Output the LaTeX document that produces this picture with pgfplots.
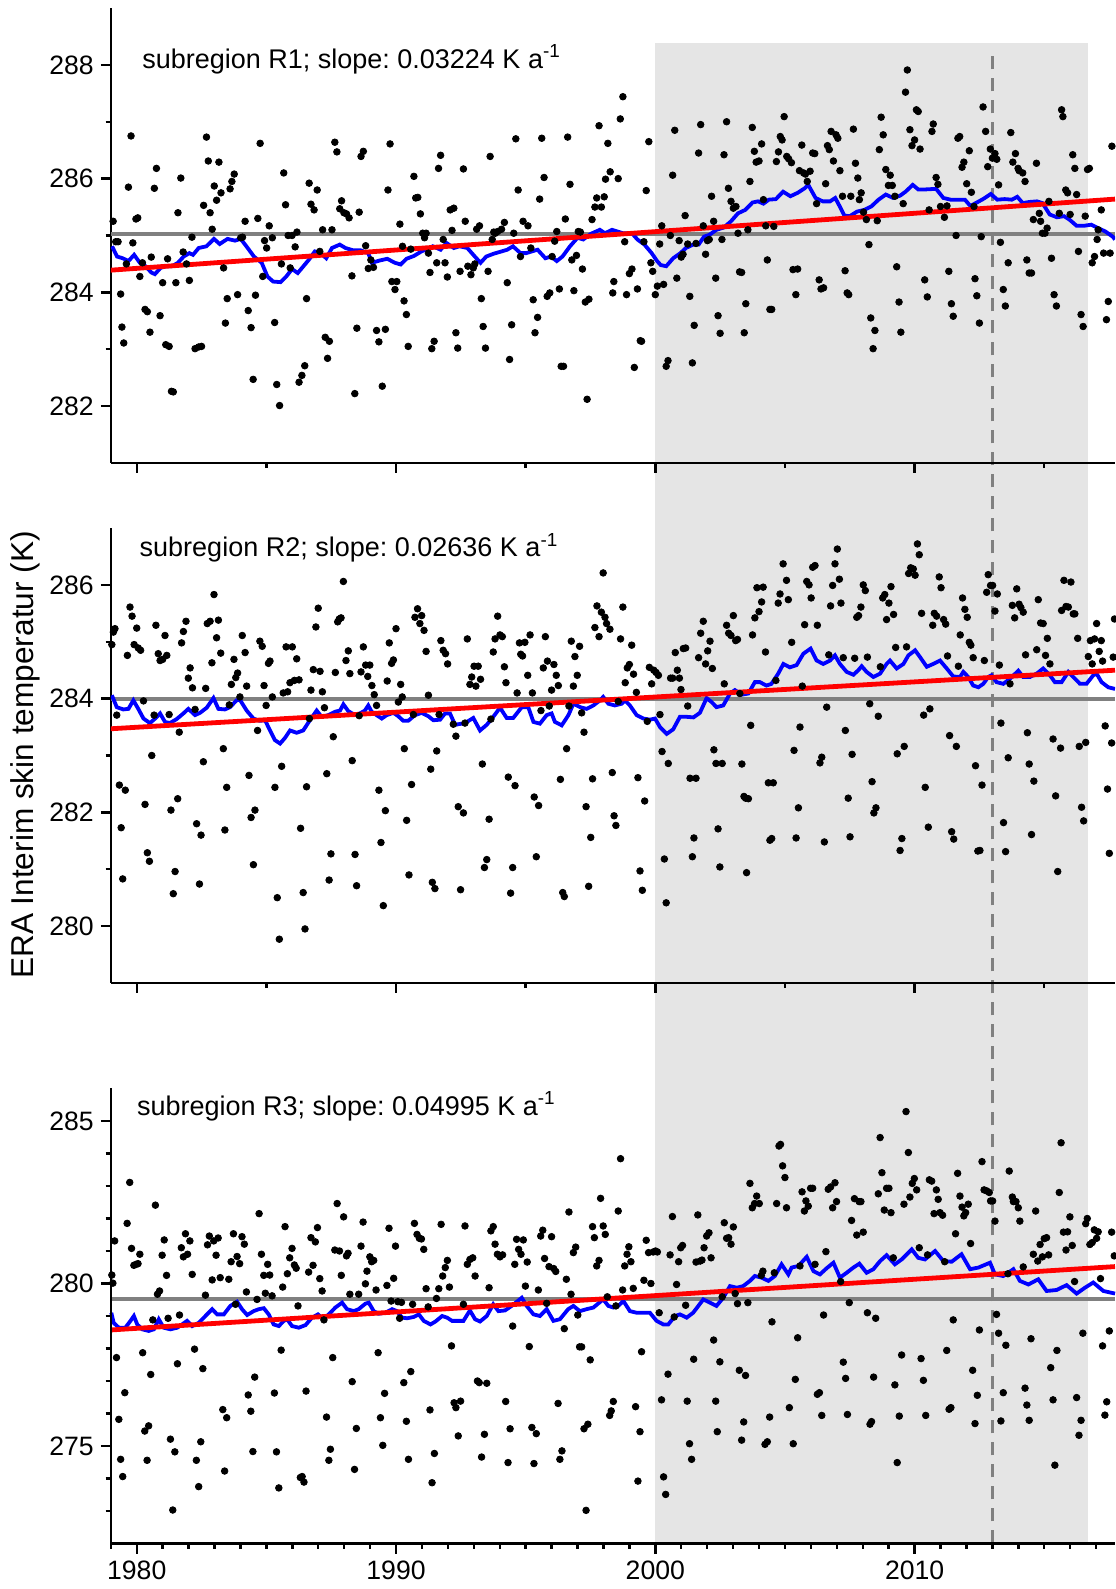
\documentclass[border=0pt]{standalone}
\usepackage{fontspec}
\setmainfont{Liberation Sans}
\usepackage{pgfplots}
\pgfplotsset{compat=1.18}
\frenchspacing
\definecolor{bandgray}{RGB}{229,229,229}
\definecolor{meangray}{RGB}{128,128,128}
\pgfplotsset{
  panel/.style={
    scale only axis, width=502.1pt, height=227.5pt,
    xmin=1979, xmax=2017.73,
    axis x line=bottom, axis y line=left,
    axis line style={-, line width=1.2pt, black},
    every outer x axis line/.append style={-},
    every outer y axis line/.append style={-},
    tick align=outside,
    major tick length=5pt, minor tick length=2.6pt,
    tick style={black, line width=1.2pt},
    xtick={1980,1990,2000,2010},
    tick label style={font=\fontsize{13.3}{15}\selectfont},
    /pgf/number format/assume math mode=true,
    /pgf/number format/set thousands separator={},
  },
  dots/.style={only marks, mark=*, mark size=1.65pt, black, mark options={draw=black, fill=black}},
  meanline/.style={meangray, line width=2pt, no marks},
  runline/.style={blue, line width=1.9pt, no marks},
  trendline/.style={red, line width=2.4pt, no marks},
}
\begin{document}
\begin{tikzpicture}
% ---------------- Panel R3 (bottom) ----------------
\begin{axis}[panel, at={(0pt,0pt)}, clip=false, axis on top,
  ymin=272, ymax=286, ytick={275,280,285},
  minor ytick={273,274,276,277,278,279,281,282,283,284},
  minor xtick={1979,1981,1982,1983,1984,1985,1986,1987,1988,1989,1991,1992,1993,1994,1995,1996,1997,1998,1999,2001,2002,2003,2004,2005,2006,2007,2008,2009,2011,2012,2013,2014,2015,2016,2017}]
\fill[bandgray] (axis cs:2000,272) rectangle (axis cs:2016.67,318.18);
\draw[meangray, line width=1.2pt, dash pattern=on 6.5pt off 4.5pt] (axis cs:2013,272) -- (axis cs:2013,317.8);
\addplot[dots] table[row sep=\\] {
x y\\
1979.04 280.26\\ 1979.08 280.01\\ 1979.15 281.31\\ 1979.22 277.72\\ 1979.31 275.82\\ 1979.38 274.59\\ 1979.46 274.06\\ 1979.54 276.64\\ 1979.63 281.85\\ 1979.73 283.11\\
1979.80 281.08\\ 1979.89 280.56\\ 1979.98 280.59\\ 1980.05 280.61\\ 1980.12 280.90\\ 1980.23 277.87\\ 1980.31 275.46\\ 1980.40 274.56\\ 1980.46 275.62\\ 1980.54 277.20\\
1980.62 278.88\\ 1980.72 282.41\\ 1980.80 279.67\\ 1980.88 279.77\\ 1980.98 280.87\\ 1981.06 281.34\\ 1981.15 280.25\\ 1981.21 278.93\\ 1981.30 275.21\\ 1981.39 273.03\\
1981.47 274.82\\ 1981.57 277.53\\ 1981.65 279.03\\ 1981.72 281.10\\ 1981.80 280.82\\ 1981.88 281.53\\ 1981.96 280.90\\ 1982.05 281.31\\ 1982.14 280.28\\ 1982.23 277.98\\
1982.30 274.56\\ 1982.39 273.75\\ 1982.47 275.13\\ 1982.55 277.38\\ 1982.65 279.64\\ 1982.73 281.19\\ 1982.80 281.46\\ 1982.91 280.11\\ 1982.97 281.31\\ 1983.06 280.87\\
1983.14 281.40\\ 1983.22 280.18\\ 1983.32 276.12\\ 1983.39 274.23\\ 1983.47 275.87\\ 1983.55 280.13\\ 1983.64 280.67\\ 1983.73 281.53\\ 1983.81 279.36\\ 1983.87 280.83\\
1983.97 280.61\\ 1984.06 281.44\\ 1984.15 281.21\\ 1984.23 279.74\\ 1984.30 276.57\\ 1984.40 276.07\\ 1984.48 274.83\\ 1984.55 277.12\\ 1984.64 279.51\\ 1984.72 282.15\\
1984.81 280.90\\ 1984.90 280.25\\ 1984.96 279.70\\ 1985.05 280.59\\ 1985.13 280.26\\ 1985.22 279.62\\ 1985.31 276.63\\ 1985.39 274.82\\ 1985.48 273.71\\ 1985.57 277.95\\
1985.63 279.89\\ 1985.72 281.75\\ 1985.81 280.30\\ 1985.90 280.79\\ 1985.99 281.08\\ 1986.08 280.57\\ 1986.15 280.47\\ 1986.22 279.31\\ 1986.31 274.03\\ 1986.38 274.06\\
1986.45 273.89\\ 1986.53 276.69\\ 1986.63 280.35\\ 1986.72 281.41\\ 1986.80 280.56\\ 1986.89 281.28\\ 1986.97 281.72\\ 1987.06 280.15\\ 1987.15 279.77\\ 1987.22 278.88\\
1987.32 275.89\\ 1987.41 274.56\\ 1987.47 274.90\\ 1987.56 277.72\\ 1987.64 281.03\\ 1987.73 282.46\\ 1987.82 281.00\\ 1987.89 280.25\\ 1987.98 282.05\\ 1988.09 280.85\\
1988.15 280.93\\ 1988.22 279.67\\ 1988.31 276.98\\ 1988.40 274.28\\ 1988.47 275.54\\ 1988.56 279.67\\ 1988.65 281.15\\ 1988.73 281.89\\ 1988.82 279.99\\ 1988.88 280.38\\
1988.99 280.82\\ 1989.06 280.67\\ 1989.14 280.71\\ 1989.23 279.80\\ 1989.31 277.87\\ 1989.40 275.87\\ 1989.49 275.02\\ 1989.56 276.62\\ 1989.65 279.94\\ 1989.73 281.70\\
1989.81 279.46\\ 1989.91 280.16\\ 1989.98 281.15\\ 1990.07 279.44\\ 1990.14 278.93\\ 1990.21 279.42\\ 1990.30 276.95\\ 1990.40 275.76\\ 1990.48 274.59\\ 1990.57 277.29\\
1990.64 279.36\\ 1990.71 281.85\\ 1990.81 281.51\\ 1990.90 281.39\\ 1990.98 281.37\\ 1991.07 281.05\\ 1991.16 279.84\\ 1991.24 279.28\\ 1991.31 276.11\\ 1991.39 273.87\\
1991.48 274.77\\ 1991.56 279.54\\ 1991.65 279.84\\ 1991.74 281.82\\ 1991.80 280.23\\ 1991.90 280.49\\ 1991.98 280.71\\ 1992.06 279.89\\ 1992.14 278.08\\
1992.24 276.33\\ 1992.31 276.18\\ 1992.40 275.31\\ 1992.49 276.38\\ 1992.60 279.36\\ 1992.66 281.77\\ 1992.75 280.59\\ 1992.85 280.74\\ 1992.96 280.79\\ 1993.05 280.23\\
1993.14 277.00\\ 1993.21 276.95\\ 1993.30 274.66\\ 1993.41 275.36\\ 1993.50 276.93\\ 1993.59 279.87\\ 1993.66 281.62\\ 1993.75 281.75\\ 1993.82 281.21\\ 1993.91 280.90\\
1994.01 280.82\\ 1994.11 280.88\\ 1994.23 276.37\\ 1994.32 274.49\\ 1994.40 275.53\\ 1994.50 278.69\\ 1994.58 280.59\\ 1994.65 281.36\\ 1994.73 281.05\\ 1994.82 280.90\\
1994.91 281.34\\ 1994.99 279.92\\ 1995.06 280.66\\ 1995.14 278.06\\ 1995.24 275.57\\ 1995.32 274.46\\ 1995.41 275.38\\ 1995.49 279.80\\ 1995.58 281.46\\ 1995.66 281.64\\
1995.73 280.77\\ 1995.81 279.39\\ 1995.90 280.52\\ 1996.00 281.44\\ 1996.08 280.46\\ 1996.16 280.37\\ 1996.25 276.31\\ 1996.32 274.59\\ 1996.40 274.85\\ 1996.49 278.61\\
1996.57 280.13\\ 1996.67 282.20\\ 1996.75 279.67\\ 1996.84 280.95\\ 1996.93 281.12\\ 1997.01 279.03\\ 1997.08 278.05\\ 1997.16 278.05\\ 1997.25 275.53\\ 1997.33 273.02\\
1997.40 275.67\\ 1997.49 277.65\\ 1997.58 281.75\\ 1997.65 281.41\\ 1997.74 280.54\\ 1997.83 280.71\\ 1997.89 282.62\\ 1997.99 281.77\\ 1998.07 281.51\\ 1998.15 279.59\\
1998.24 275.94\\ 1998.30 276.08\\ 1998.38 276.37\\ 1998.48 279.31\\ 1998.57 282.23\\ 1998.66 283.84\\ 1998.74 279.80\\ 1998.82 280.54\\ 1998.91 280.90\\ 1998.98 281.13\\
1999.06 280.67\\ 1999.15 279.85\\ 1999.24 276.21\\ 1999.33 273.92\\ 1999.41 275.44\\ 1999.47 277.90\\ 1999.56 280.10\\ 1999.65 281.33\\ 1999.74 280.95\\ 1999.83 280.00\\
1999.92 280.97\\ 2000.01 281.00\\ 2000.08 280.97\\ 2000.15 279.10\\ 2000.24 276.42\\ 2000.32 274.05\\ 2000.40 273.51\\ 2000.49 277.21\\ 2000.57 280.88\\ 2000.66 282.06\\
2000.73 278.97\\ 2000.82 279.97\\ 2000.90 280.67\\ 2000.98 281.10\\ 2001.05 281.17\\ 2001.17 279.33\\ 2001.23 276.38\\ 2001.32 275.07\\ 2001.40 274.59\\ 2001.48 277.67\\
2001.57 280.66\\ 2001.64 282.11\\ 2001.73 280.69\\ 2001.80 280.72\\ 2001.88 281.10\\ 2001.98 281.46\\ 2002.07 281.56\\ 2002.15 280.79\\ 2002.25 278.26\\ 2002.33 276.38\\
2002.39 275.44\\ 2002.49 277.59\\ 2002.58 279.59\\ 2002.66 281.87\\ 2002.75 281.39\\ 2002.83 281.41\\ 2002.92 281.21\\ 2003.01 281.74\\ 2003.08 279.69\\ 2003.17 279.38\\
2003.24 277.33\\ 2003.33 275.18\\ 2003.41 275.74\\ 2003.48 277.17\\ 2003.57 279.41\\ 2003.65 283.08\\ 2003.74 282.33\\ 2003.83 282.46\\ 2003.91 282.69\\ 2004.01 282.46\\
2004.09 280.25\\ 2004.15 280.38\\ 2004.23 275.05\\ 2004.32 275.13\\ 2004.41 275.89\\ 2004.50 278.82\\ 2004.59 280.33\\ 2004.68 282.46\\ 2004.77 284.23\\ 2004.83 284.28\\
2004.91 283.62\\ 2005.00 283.26\\ 2005.06 282.33\\ 2005.17 276.18\\
2005.32 275.07\\ 2005.40 277.05\\ 2005.49 278.33\\ 2005.58 280.54\\ 2005.66 282.82\\ 2005.75 282.23\\ 2005.81 282.54\\ 2005.90 282.38\\ 2005.99 282.93\\ 2006.07 282.93\\
2006.16 280.59\\ 2006.25 276.59\\ 2006.33 276.64\\ 2006.42 275.94\\ 2006.49 279.03\\ 2006.58 280.98\\ 2006.67 282.90\\ 2006.76 282.97\\ 2006.84 282.33\\ 2006.93 283.10\\
2006.99 282.52\\ 2007.15 280.06\\ 2007.25 277.58\\ 2007.34 277.08\\ 2007.41 275.97\\ 2007.48 279.41\\ 2007.57 281.94\\ 2007.68 282.61\\ 2007.77 281.49\\ 2007.86 282.52\\
2007.93 282.52\\ 2008.02 281.58\\ 2008.18 279.10\\ 2008.28 275.67\\ 2008.34 275.75\\ 2008.42 277.12\\ 2008.50 278.93\\ 2008.60 282.76\\ 2008.67 284.49\\ 2008.74 283.41\\
2008.83 282.26\\ 2008.92 282.93\\ 2009.01 282.93\\ 2009.09 282.18\\ 2009.18 280.79\\ 2009.24 276.88\\ 2009.33 274.49\\ 2009.41 275.92\\ 2009.50 277.80\\ 2009.59 282.44\\
2009.67 285.29\\ 2009.76 284.03\\ 2009.82 282.66\\ 2009.91 283.08\\ 2009.99 283.23\\ 2010.08 282.88\\ 2010.18 281.10\\ 2010.25 277.69\\ 2010.34 277.02\\ 2010.43 275.94\\
2010.50 280.88\\ 2010.57 283.19\\ 2010.66 283.15\\ 2010.75 282.15\\ 2010.84 282.88\\ 2010.91 282.59\\ 2010.98 282.18\\ 2011.08 282.10\\ 2011.16 280.67\\ 2011.24 277.94\\
2011.33 276.13\\ 2011.40 276.18\\ 2011.49 278.88\\ 2011.58 281.53\\ 2011.66 283.39\\ 2011.75 282.69\\ 2011.83 282.35\\ 2011.90 282.08\\ 2011.97 282.18\\ 2012.07 282.44\\
2012.16 281.23\\ 2012.24 277.33\\ 2012.33 275.69\\ 2012.42 276.56\\ 2012.50 278.57\\ 2012.60 283.75\\ 2012.68 282.88\\ 2012.78 282.85\\ 2012.88 282.80\\ 2012.93 282.54\\
2013.01 282.54\\ 2013.10 281.92\\ 2013.16 279.05\\ 2013.24 278.47\\ 2013.33 275.77\\ 2013.42 276.64\\ 2013.52 278.10\\ 2013.60 280.30\\ 2013.65 283.46\\ 2013.77 282.66\\
2013.81 282.52\\ 2013.91 282.52\\ 2014.00 282.33\\ 2014.06 281.92\\ 2014.19 280.51\\ 2014.26 276.78\\ 2014.33 276.26\\ 2014.42 275.79\\ 2014.49 278.30\\ 2014.58 280.90\\
2014.67 282.23\\ 2014.75 280.69\\ 2014.84 281.20\\ 2014.93 280.82\\ 2015.00 281.38\\ 2015.09 281.41\\ 2015.17 280.88\\ 2015.25 277.41\\ 2015.34 276.42\\ 2015.41 274.41\\
2015.49 277.94\\ 2015.58 282.80\\ 2015.65 284.33\\ 2015.74 281.58\\ 2015.84 281.03\\ 2015.90 281.59\\ 2015.99 282.05\\ 2016.08 281.17\\ 2016.17 280.06\\ 2016.25 276.49\\
2016.34 275.33\\ 2016.42 275.79\\ 2016.49 278.47\\ 2016.60 281.84\\ 2016.66 282.00\\ 2016.76 281.20\\ 2016.85 281.26\\ 2016.93 281.65\\ 2017.02 281.39\\ 2017.08 281.59\\
2017.17 280.15\\ 2017.25 278.08\\ 2017.34 275.95\\ 2017.41 276.36\\ 2017.51 278.54\\ 2017.60 281.58\\ 2017.70 280.85\\
};
\addplot[meanline] coordinates {(1979,279.53) (2017.73,279.53)};
\addplot[runline] coordinates {
(1979.02,279.10) (1979.11,278.79) (1979.31,278.64) (1979.56,278.64) (1979.76,278.85) (1979.89,279.00) (1980.02,278.74) (1980.21,278.59) (1980.46,278.54) (1980.66,278.59)
(1980.85,278.90) (1981.04,278.64) (1981.30,278.59) (1981.56,278.64) (1981.75,278.74) (1981.94,278.85) (1982.14,278.69) (1982.39,278.79) (1982.65,279.00) (1982.91,279.21)
(1983.10,279.05) (1983.36,279.05) (1983.61,279.31) (1983.87,279.44) (1984.06,279.21) (1984.26,279.03) (1984.51,279.15) (1984.71,279.21) (1984.90,279.24) (1985.09,279.05)
(1985.28,278.74) (1985.48,278.69) (1985.67,278.85) (1985.80,278.90) (1985.99,278.69) (1986.25,278.64) (1986.51,278.72) (1986.76,278.95) (1986.99,279.05) (1987.21,278.90)
(1987.47,279.10) (1987.66,279.26) (1987.92,279.41) (1988.11,279.21) (1988.37,279.15) (1988.56,279.21) (1988.82,279.38) (1988.95,279.41) (1989.14,279.15) (1989.33,279.07)
(1989.59,279.10) (1989.85,279.21) (1990.04,279.15) (1990.23,278.95) (1990.43,278.93) (1990.68,278.97) (1990.88,279.05) (1991.07,278.85) (1991.33,278.74) (1991.52,278.83)
(1991.78,279.00) (1991.97,278.95) (1992.16,278.85) (1992.34,278.85) (1992.60,278.85) (1992.85,279.17) (1993.05,278.90) (1993.24,278.83) (1993.50,279.00) (1993.75,279.36)
(1993.95,279.15) (1994.20,279.17) (1994.46,279.31) (1994.85,279.56) (1995.04,279.31) (1995.30,279.05) (1995.55,279.00) (1995.81,279.21) (1996.07,278.85) (1996.32,278.90)
(1996.64,279.21) (1996.84,279.31) (1997.09,279.15) (1997.35,279.21) (1997.61,279.26) (1997.99,279.51) (1998.19,279.31) (1998.38,279.26) (1998.57,279.31) (1998.77,279.46)
(1999.02,279.15) (1999.28,279.10) (1999.54,279.10) (1999.79,279.10) (2000.05,278.85) (2000.31,278.74) (2000.50,278.74) (2000.76,279.00) (2000.95,279.05) (2001.21,278.95)
(2001.46,279.10) (2001.85,279.51) (2002.11,279.41) (2002.36,279.31) (2002.62,279.56) (2002.88,279.92) (2003.14,279.87) (2003.39,279.92) (2003.65,280.08) (2003.84,280.23)
(2004.10,280.18) (2004.36,280.08) (2004.61,280.23) (2004.87,280.59) (2005.13,280.28) (2005.26,280.49) (2005.52,280.54) (2005.84,280.82) (2006.10,280.38) (2006.35,280.28)
(2006.61,280.47) (2006.87,280.64) (2007.12,280.18) (2007.38,280.33) (2007.64,280.49) (2007.87,280.61) (2008.15,280.33) (2008.41,280.44) (2008.67,280.69) (2008.92,280.87)
(2009.24,280.59) (2009.50,280.74) (2009.89,281.05) (2010.14,280.79) (2010.40,280.74) (2010.79,281.00) (2011.11,280.69) (2011.43,280.67) (2011.81,280.90) (2012.14,280.44)
(2012.46,280.49) (2012.91,280.64) (2013.10,280.28) (2013.42,280.23) (2013.81,280.44) (2014.06,280.08) (2014.39,279.97) (2014.77,280.13) (2015.09,279.77) (2015.48,279.80)
(2015.86,279.95) (2016.25,279.69) (2016.57,279.87) (2016.89,280.03) (2017.28,279.77) (2017.73,279.69)
};
\addplot[trendline] coordinates {(1979,278.57) (2017.73,280.52)};
\node[anchor=west, inner sep=0pt, font=\fontsize{13.5}{16}\selectfont] at (axis cs:1980.0,285.45) {subregion R3; slope: 0.04995 K a\textsuperscript{-1}};
\end{axis}
% ---------------- Panel R2 (middle) ----------------
\begin{axis}[panel, at={(0pt,280.25pt)},
  ymin=279, ymax=287, ytick={280,282,284,286}, minor ytick={281,283,285},
  xticklabels={,,,}, minor xtick={1985,1995,2005,2015}]
\addplot[dots] table[row sep=\\] {
x y\\
1979.10 285.17\\ 1979.16 285.23\\ 1979.04 284.95\\ 1979.23 283.71\\ 1979.33 282.48\\ 1979.40 281.73\\ 1979.46 280.83\\ 1979.56 282.39\\ 1979.64 284.76\\ 1979.74 285.61\\
1979.82 285.45\\ 1979.90 284.95\\ 1980.00 285.24\\ 1980.06 284.89\\ 1980.15 284.85\\ 1980.26 283.96\\ 1980.32 282.14\\ 1980.41 281.29\\ 1980.49 281.14\\ 1980.58 283.00\\
1980.67 283.71\\ 1980.74 285.29\\ 1980.83 284.79\\ 1980.90 284.67\\ 1981.00 284.69\\ 1981.09 285.11\\ 1981.16 284.76\\ 1981.25 283.72\\ 1981.32 282.04\\ 1981.41 280.57\\
1981.48 280.96\\ 1981.58 282.24\\ 1981.64 283.41\\ 1981.73 284.98\\ 1981.80 285.18\\ 1981.90 285.36\\ 1981.99 284.36\\ 1982.06 284.54\\ 1982.15 284.19\\ 1982.25 283.81\\
1982.31 281.80\\ 1982.42 280.74\\ 1982.48 281.60\\ 1982.57 282.89\\ 1982.66 284.18\\ 1982.72 285.32\\ 1982.83 285.36\\ 1982.90 284.63\\ 1982.98 285.83\\ 1983.08 285.07\\
1983.15 285.38\\ 1983.24 284.80\\ 1983.34 283.12\\ 1983.40 281.69\\ 1983.47 282.44\\ 1983.57 283.89\\ 1983.65 284.25\\ 1983.75 284.69\\ 1983.82 284.37\\ 1983.89 284.45\\
1983.98 284.03\\ 1984.07 285.11\\ 1984.18 284.81\\ 1984.24 284.22\\ 1984.33 282.65\\ 1984.41 281.91\\ 1984.50 281.08\\ 1984.56 282.04\\ 1984.66 283.44\\ 1984.75 285.01\\
1984.84 284.92\\ 1984.91 284.23\\ 1984.99 283.88\\ 1985.08 284.62\\ 1985.14 284.66\\ 1985.23 284.03\\ 1985.33 282.44\\ 1985.42 280.50\\ 1985.50 279.77\\ 1985.59 282.81\\
1985.65 284.10\\ 1985.76 284.91\\ 1985.82 284.12\\ 1985.91 284.28\\ 1986.00 284.91\\ 1986.08 284.32\\ 1986.17 284.70\\ 1986.26 284.33\\ 1986.32 281.72\\ 1986.42 280.59\\
1986.49 279.95\\ 1986.55 282.45\\ 1986.66 283.65\\ 1986.72 284.15\\ 1986.81 284.51\\ 1986.91 285.26\\ 1987.00 285.59\\ 1987.07 284.48\\ 1987.16 284.12\\ 1987.24 283.84\\
1987.33 282.68\\ 1987.42 280.81\\ 1987.49 281.27\\ 1987.58 283.33\\ 1987.66 284.46\\ 1987.75 285.35\\ 1987.81 285.40\\ 1987.88 285.42\\ 1987.97 286.06\\ 1988.07 284.67\\
1988.16 284.84\\ 1988.22 284.44\\ 1988.31 282.91\\ 1988.42 281.26\\ 1988.48 280.71\\ 1988.58 283.70\\ 1988.65 284.47\\ 1988.74 284.91\\ 1988.83 284.59\\ 1988.91 284.39\\
1988.99 284.59\\ 1989.07 284.23\\ 1989.16 284.07\\ 1989.25 283.88\\ 1989.34 282.39\\ 1989.42 281.47\\ 1989.51 280.36\\ 1989.59 282.03\\ 1989.66 284.31\\ 1989.74 284.98\\
1989.83 284.62\\ 1989.90 284.68\\ 1990.00 285.23\\ 1990.09 283.94\\ 1990.18 284.25\\ 1990.24 284.03\\ 1990.32 283.12\\ 1990.41 281.86\\ 1990.50 280.90\\ 1990.60 282.49\\
1990.67 283.72\\ 1990.73 285.43\\ 1990.83 285.58\\ 1990.92 285.32\\ 1990.99 285.46\\ 1991.08 285.20\\ 1991.16 284.83\\ 1991.25 284.06\\ 1991.34 282.76\\ 1991.40 280.77\\
1991.50 280.66\\ 1991.57 283.08\\ 1991.66 283.72\\ 1991.73 285.02\\ 1991.82 284.85\\ 1991.91 284.79\\ 1991.99 284.61\\
1992.21 283.55\\ 1992.31 283.34\\ 1992.40 282.10\\ 1992.49 280.64\\ 1992.60 281.99\\ 1992.66 283.57\\ 1992.75 285.05\\ 1992.85 284.25\\ 1992.92 284.38\\ 1993.01 284.57\\
1993.08 284.22\\ 1993.17 284.57\\ 1993.26 284.34\\ 1993.33 282.85\\ 1993.41 281.03\\ 1993.50 281.17\\ 1993.59 281.88\\ 1993.66 283.64\\ 1993.75 284.82\\ 1993.82 285.05\\
1993.92 285.45\\ 1994.01 285.12\\ 1994.10 285.09\\ 1994.18 284.56\\ 1994.24 284.28\\ 1994.33 282.62\\ 1994.42 280.58\\ 1994.50 281.03\\ 1994.59 282.47\\ 1994.67 284.10\\
1994.76 284.98\\ 1994.81 284.78\\ 1994.88 284.75\\ 1994.97 284.99\\ 1995.08 284.41\\ 1995.17 285.12\\ 1995.26 284.10\\ 1995.33 282.27\\ 1995.41 281.22\\ 1995.50 282.12\\
1995.59 283.79\\ 1995.68 284.54\\ 1995.76 285.09\\ 1995.84 284.66\\ 1995.91 283.87\\ 1996.00 284.15\\ 1996.09 284.60\\ 1996.18 284.41\\ 1996.26 284.23\\ 1996.34 282.58\\
1996.43 280.59\\ 1996.49 280.52\\ 1996.58 283.12\\ 1996.67 283.87\\ 1996.76 285.01\\ 1996.84 284.22\\ 1996.90 284.74\\ 1996.99 284.41\\ 1997.08 284.92\\ 1997.16 283.75\\
1997.25 283.41\\ 1997.33 282.10\\ 1997.43 280.70\\ 1997.51 281.56\\ 1997.58 282.59\\ 1997.67 285.25\\ 1997.75 285.63\\ 1997.83 285.09\\ 1997.92 285.52\\ 1997.99 286.21\\
1998.06 285.43\\ 1998.12 285.32\\ 1998.25 285.22\\ 1998.34 282.70\\ 1998.41 281.94\\ 1998.48 281.77\\ 1998.57 283.95\\ 1998.66 285.05\\ 1998.75 285.61\\ 1998.84 284.28\\
1998.92 284.54\\ 1999.00 284.60\\ 1999.09 284.94\\ 1999.16 284.43\\ 1999.27 284.11\\ 1999.33 282.61\\ 1999.41 280.97\\ 1999.50 280.63\\ 1999.59 282.20\\ 1999.69 283.60\\
1999.77 284.55\\ 1999.86 284.26\\ 1999.94 284.50\\ 2000.03 284.46\\ 2000.12 284.41\\ 2000.18 283.72\\ 2000.26 283.07\\ 2000.35 281.18\\ 2000.42 280.41\\ 2000.50 282.86\\
2000.59 284.36\\ 2000.67 284.36\\ 2000.77 284.81\\ 2000.85 284.50\\ 2000.93 284.36\\ 2000.99 284.16\\ 2001.08 284.88\\ 2001.17 284.89\\ 2001.25 283.87\\ 2001.34 282.60\\
2001.43 281.22\\ 2001.49 281.55\\ 2001.57 282.60\\ 2001.67 284.72\\ 2001.75 285.15\\ 2001.85 285.36\\ 2001.94 284.61\\ 2002.02 284.84\\ 2002.11 285.01\\ 2002.20 284.53\\
2002.26 283.10\\ 2002.34 282.86\\ 2002.42 281.71\\ 2002.49 281.04\\ 2002.58 282.86\\ 2002.66 284.26\\ 2002.75 285.29\\ 2002.83 285.15\\ 2002.92 285.11\\ 2003.01 285.46\\
2003.10 285.02\\ 2003.17 285.04\\ 2003.26 284.09\\ 2003.34 282.85\\ 2003.42 282.28\\ 2003.48 282.25\\ 2003.52 280.94\\ 2003.59 282.24\\ 2003.68 283.53\\ 2003.75 285.12\\
2003.84 285.42\\ 2003.92 285.95\\ 2004.00 285.53\\ 2004.10 285.70\\ 2004.16 285.96\\ 2004.25 284.82\\ 2004.36 282.52\\ 2004.42 281.51\\ 2004.49 281.54\\ 2004.55 282.52\\
2004.65 284.32\\ 2004.74 285.68\\ 2004.81 285.84\\ 2004.93 286.37\\ 2005.06 286.08\\ 2005.13 285.74\\
2005.26 284.99\\ 2005.35 283.09\\ 2005.43 281.55\\ 2005.52 282.08\\ 2005.58 283.50\\ 2005.67 284.22\\ 2005.76 285.30\\ 2005.84 286.06\\ 2005.93 286.00\\ 2006.01 285.77\\
2006.07 286.31\\ 2006.16 286.34\\ 2006.25 285.29\\ 2006.35 282.87\\ 2006.42 282.97\\ 2006.52 281.48\\ 2006.61 283.85\\ 2006.69 284.77\\ 2006.76 285.63\\ 2006.84 285.99\\
2006.93 286.37\\ 2007.02 286.63\\ 2007.10 286.10\\ 2007.16 285.68\\ 2007.25 284.72\\ 2007.33 283.44\\ 2007.44 282.25\\ 2007.51 281.57\\ 2007.59 283.02\\ 2007.69 284.71\\
2007.77 285.43\\ 2007.84 285.46\\ 2007.93 285.61\\ 2008.02 286.00\\ 2008.10 285.90\\ 2008.18 284.73\\ 2008.27 283.91\\ 2008.36 282.54\\ 2008.43 281.99\\ 2008.51 282.08\\
2008.60 283.69\\ 2008.68 284.56\\ 2008.77 285.77\\ 2008.85 285.83\\ 2008.92 285.39\\ 2009.01 285.68\\ 2009.09 285.97\\ 2009.19 285.48\\ 2009.27 284.90\\ 2009.33 283.03\\
2009.44 281.33\\ 2009.51 281.54\\ 2009.60 283.16\\ 2009.69 284.91\\ 2009.77 286.20\\ 2009.85 286.30\\ 2009.95 286.28\\ 2010.02 286.17\\ 2010.11 286.72\\ 2010.18 286.53\\
2010.27 285.50\\ 2010.35 283.71\\ 2010.41 282.44\\ 2010.53 281.74\\ 2010.59 283.82\\ 2010.70 285.29\\ 2010.76 285.50\\ 2010.85 285.45\\ 2010.95 286.14\\ 2011.02 285.95\\
2011.12 285.39\\ 2011.20 285.31\\ 2011.27 284.75\\ 2011.35 283.35\\ 2011.43 281.66\\ 2011.51 281.53\\ 2011.61 283.16\\ 2011.69 284.57\\ 2011.76 285.12\\ 2011.85 285.77\\
2011.94 285.57\\ 2012.03 285.43\\ 2012.11 284.99\\ 2012.17 284.94\\ 2012.26 284.72\\ 2012.35 282.82\\ 2012.44 281.32\\ 2012.52 281.33\\ 2012.60 282.48\\ 2012.69 284.67\\
2012.78 285.87\\ 2012.84 286.18\\ 2012.93 285.99\\ 2013.01 285.99\\ 2013.10 285.54\\ 2013.19 285.84\\ 2013.27 284.59\\ 2013.33 283.57\\ 2013.43 281.82\\ 2013.51 281.31\\
2013.61 282.96\\ 2013.68 284.26\\ 2013.77 285.64\\ 2013.86 285.42\\ 2013.94 285.93\\ 2014.03 285.66\\ 2014.10 285.60\\ 2014.19 285.52\\ 2014.28 284.77\\ 2014.35 283.40\\
2014.42 282.85\\ 2014.51 281.61\\ 2014.60 282.55\\ 2014.71 284.86\\ 2014.77 285.74\\ 2014.86 285.33\\ 2014.96 285.32\\ 2015.05 284.76\\ 2015.12 285.06\\ 2015.22 284.61\\
2015.34 283.29\\ 2015.44 282.29\\ 2015.52 280.96\\ 2015.63 283.13\\ 2015.67 285.55\\ 2015.76 286.08\\ 2015.84 285.62\\ 2015.93 285.61\\ 2016.03 286.05\\ 2016.12 285.49\\
2016.18 285.49\\ 2016.29 285.06\\ 2016.35 283.16\\ 2016.44 282.09\\ 2016.52 281.85\\ 2016.60 283.23\\ 2016.70 284.74\\ 2016.78 285.02\\ 2016.85 284.61\\ 2016.94 285.05\\
2017.02 285.32\\ 2017.12 284.83\\ 2017.20 285.02\\ 2017.25 284.66\\ 2017.35 283.52\\ 2017.44 282.41\\ 2017.51 281.28\\ 2017.60 283.22\\ 2017.66 284.73\\ 2017.71 285.40\\
};
\addplot[meanline] coordinates {(1979,283.99) (2017.73,283.99)};
\addplot[runline] coordinates {
(1979.04,284.06) (1979.23,283.85) (1979.48,283.81) (1979.68,283.82) (1979.87,283.97) (1980.06,283.82) (1980.26,283.65) (1980.51,283.57) (1980.71,283.65) (1980.90,283.74)
(1981.09,283.59) (1981.28,283.57) (1981.54,283.64) (1981.80,283.74) (1981.99,283.82) (1982.25,283.71) (1982.44,283.75) (1982.70,283.84) (1982.96,284.01) (1983.15,283.82)
(1983.40,283.81) (1983.60,283.85) (1983.85,283.97) (1983.98,283.98) (1984.24,283.79) (1984.50,283.65) (1984.75,283.61) (1984.95,283.62) (1985.14,283.44) (1985.33,283.27)
(1985.53,283.21) (1985.72,283.31) (1985.91,283.44) (1986.17,283.40) (1986.42,283.44) (1986.68,283.62) (1986.94,283.79) (1987.13,283.68) (1987.39,283.71) (1987.65,283.77)
(1987.84,283.79) (1987.97,283.90) (1988.16,283.78) (1988.42,283.71) (1988.61,283.74) (1988.80,283.79) (1988.93,283.88) (1989.06,283.77) (1989.25,283.71) (1989.45,283.65)
(1989.64,283.71) (1989.90,283.75) (1990.09,283.69) (1990.28,283.61) (1990.47,283.61) (1990.73,283.71) (1990.99,283.75) (1991.25,283.69) (1991.44,283.62) (1991.70,283.63)
(1991.89,283.74) (1992.08,283.74) (1992.28,283.54) (1992.53,283.56) (1992.73,283.59) (1992.98,283.66) (1993.24,283.44) (1993.50,283.54) (1993.75,283.68) (1994.01,283.84)
(1994.27,283.66) (1994.52,283.66) (1994.85,283.85) (1995.10,283.85) (1995.30,283.59) (1995.55,283.56) (1995.81,283.71) (1996.00,283.74) (1996.13,283.59) (1996.39,283.53)
(1996.65,283.71) (1996.84,283.91) (1997.10,283.85) (1997.35,283.82) (1997.61,283.88) (1997.87,283.97) (1997.99,284.03) (1998.19,283.91) (1998.44,283.88) (1998.70,283.91)
(1998.83,283.97) (1999.02,283.88) (1999.28,283.71) (1999.54,283.65) (1999.79,283.63) (1999.99,283.65) (2000.18,283.50) (2000.44,283.38) (2000.69,283.46) (2000.95,283.68)
(2001.21,283.68) (2001.47,283.67) (2001.72,283.75) (2001.98,284.01) (2002.17,283.94) (2002.36,283.85) (2002.62,283.88) (2002.88,284.09) (2003.07,284.15) (2003.33,284.07)
(2003.59,284.09) (2003.84,284.29) (2004.03,284.29) (2004.29,284.23) (2004.48,284.26) (2004.74,284.44) (2004.94,284.61) (2005.19,284.55) (2005.45,284.59) (2005.71,284.79)
(2005.99,284.88) (2006.22,284.67) (2006.48,284.61) (2006.74,284.67) (2006.93,284.76) (2007.12,284.61) (2007.38,284.47) (2007.64,284.42) (2007.83,284.50) (2007.96,284.57)
(2008.15,284.47) (2008.41,284.38) (2008.67,284.44) (2008.92,284.61) (2009.05,284.67) (2009.31,284.53) (2009.57,284.61) (2009.76,284.76) (2010.02,284.85) (2010.21,284.73)
(2010.47,284.56) (2010.72,284.61) (2010.98,284.67) (2011.24,284.53) (2011.49,284.39) (2011.75,284.38) (2011.88,284.47) (2012.07,284.38) (2012.26,284.23) (2012.46,284.20)
(2012.65,284.26) (2012.84,284.38) (2012.97,284.41) (2013.16,284.29) (2013.42,284.26) (2013.68,284.35) (2014.00,284.49) (2014.19,284.38) (2014.45,284.38) (2014.71,284.44)
(2014.96,284.53) (2015.22,284.41) (2015.41,284.29) (2015.67,284.29) (2015.93,284.47) (2016.12,284.38) (2016.38,284.26) (2016.63,284.26) (2016.89,284.41) (2017.02,284.44)
(2017.21,284.29) (2017.47,284.20) (2017.73,284.17)
};
\addplot[trendline] coordinates {(1979,283.47) (2017.73,284.50)};
\node[anchor=west, inner sep=0pt, font=\fontsize{13.5}{16}\selectfont] at (axis cs:1980.1,286.65) {subregion R2; slope: 0.02636 K a\textsuperscript{-1}};
\end{axis}
% ---------------- Panel R1 (top) ----------------
\begin{axis}[panel, at={(0pt,540.25pt)},
  ymin=281, ymax=289, ytick={282,284,286,288}, minor ytick={283,285,287},
  xticklabels={,,,}, minor xtick={1985,1995,2005,2015}]
\addplot[dots] table[row sep=\\] {
x y\\
1979.09 285.25\\ 1979.19 284.89\\ 1979.28 284.89\\ 1979.38 283.97\\ 1979.43 283.39\\ 1979.50 283.11\\ 1979.60 284.50\\ 1979.68 285.85\\ 1979.78 286.75\\ 1979.85 284.87\\
1979.97 285.29\\ 1980.04 285.31\\ 1980.12 284.28\\ 1980.22 284.52\\ 1980.32 283.70\\ 1980.41 283.66\\ 1980.51 283.30\\ 1980.56 284.62\\ 1980.68 285.83\\ 1980.76 286.18\\
1980.90 283.59\\ 1981.00 284.17\\ 1981.12 283.08\\ 1981.19 284.59\\ 1981.25 283.05\\ 1981.34 282.26\\ 1981.41 282.25\\ 1981.51 284.17\\ 1981.59 285.40\\ 1981.70 286.01\\
1981.79 284.71\\ 1981.92 284.50\\ 1982.03 284.21\\ 1982.13 284.97\\ 1982.25 283.01\\ 1982.39 283.04\\ 1982.50 283.05\\ 1982.58 285.53\\ 1982.69 286.73\\ 1982.76 286.31\\
1982.83 285.40\\ 1982.91 285.11\\ 1982.99 285.87\\ 1983.08 285.62\\ 1983.17 286.29\\ 1983.25 285.75\\ 1983.35 284.43\\ 1983.42 283.46\\ 1983.49 283.89\\ 1983.60 285.82\\
1983.67 285.95\\ 1983.76 286.08\\ 1983.89 283.96\\ 1984.01 284.96\\ 1984.08 284.97\\ 1984.18 285.25\\ 1984.30 283.68\\ 1984.41 283.38\\ 1984.49 282.47\\ 1984.58 283.95\\
1984.67 285.30\\ 1984.76 286.62\\ 1984.86 284.28\\ 1984.93 284.91\\ 1985.01 284.78\\ 1985.11 285.17\\ 1985.23 284.96\\ 1985.32 283.47\\ 1985.40 282.38\\ 1985.51 282.01\\
1985.58 284.50\\ 1985.67 286.10\\ 1985.74 285.54\\ 1985.84 285.00\\ 1985.92 284.43\\ 1985.99 285.00\\ 1986.11 284.80\\ 1986.18 285.06\\ 1986.26 282.42\\ 1986.37 282.54\\
1986.48 282.71\\ 1986.55 283.89\\ 1986.65 285.92\\ 1986.72 285.55\\ 1986.84 285.45\\ 1986.96 285.80\\ 1987.06 284.72\\ 1987.17 285.10\\ 1987.27 283.21\\ 1987.36 282.84\\
1987.43 283.14\\ 1987.53 285.10\\ 1987.64 286.64\\ 1987.72 286.47\\ 1987.83 285.47\\ 1987.90 285.61\\ 1987.99 285.40\\ 1988.09 285.38\\ 1988.19 285.31\\ 1988.30 284.29\\
1988.41 282.22\\ 1988.49 283.37\\ 1988.58 285.41\\ 1988.65 286.39\\ 1988.74 286.48\\ 1988.83 284.82\\ 1988.93 284.42\\ 1989.03 284.57\\ 1989.13 284.44\\ 1989.25 283.33\\
1989.34 283.13\\ 1989.47 282.35\\ 1989.59 283.35\\ 1989.69 285.80\\ 1989.77 286.61\\ 1989.84 284.19\\ 1989.96 284.05\\ 1990.03 284.19\\ 1990.15 285.20\\ 1990.25 284.81\\
1990.31 283.85\\ 1990.40 283.61\\ 1990.47 283.05\\ 1990.57 284.76\\ 1990.69 286.04\\ 1990.76 285.66\\ 1990.84 285.67\\ 1990.94 285.38\\ 1991.03 285.04\\ 1991.10 284.96\\
1991.16 285.04\\ 1991.25 284.69\\ 1991.31 284.35\\ 1991.38 283.01\\ 1991.47 283.14\\ 1991.57 284.52\\ 1991.64 286.18\\ 1991.72 286.41\\ 1991.82 284.93\\ 1991.89 284.52\\
1991.98 284.27\\ 1992.09 285.45\\ 1992.16 285.09\\ 1992.23 285.48\\ 1992.31 283.29\\ 1992.38 283.02\\ 1992.47 284.37\\ 1992.60 286.17\\ 1992.67 285.25\\ 1992.77 284.46\\
1992.89 284.31\\ 1992.98 284.43\\ 1993.04 284.50\\ 1993.11 285.11\\ 1993.22 285.17\\ 1993.29 283.89\\ 1993.36 283.40\\ 1993.45 283.02\\ 1993.55 284.37\\ 1993.63 286.39\\
1993.71 284.93\\ 1993.77 285.06\\ 1993.83 285.04\\ 1993.92 285.07\\ 1994.07 285.11\\ 1994.18 285.23\\ 1994.29 284.17\\ 1994.38 282.82\\ 1994.46 283.43\\ 1994.54 285.04\\
1994.62 286.70\\ 1994.71 285.80\\ 1994.80 284.63\\ 1994.90 285.25\\ 1995.09 285.17\\ 1995.20 284.78\\ 1995.29 283.87\\ 1995.36 283.29\\ 1995.46 283.56\\ 1995.54 285.64\\
1995.62 286.71\\ 1995.71 286.02\\ 1995.83 283.93\\ 1995.93 283.99\\ 1996.02 284.63\\ 1996.12 284.90\\ 1996.20 285.07\\ 1996.30 284.06\\ 1996.37 282.70\\ 1996.46 282.70\\
1996.53 285.29\\ 1996.62 286.73\\ 1996.71 285.90\\ 1996.78 284.57\\ 1996.86 284.03\\ 1996.96 284.65\\ 1997.03 285.07\\ 1997.11 285.06\\ 1997.19 284.41\\ 1997.30 283.83\\
1997.37 282.12\\ 1997.44 283.88\\ 1997.56 285.28\\ 1997.67 285.50\\ 1997.74 285.66\\ 1997.83 286.93\\ 1997.92 285.50\\
1998.03 285.68\\ 1998.08 285.99\\ 1998.17 286.62\\ 1998.26 286.12\\ 1998.36 283.99\\ 1998.40 284.19\\ 1998.57 286.00\\ 1998.65 287.05\\ 1998.75 287.44\\ 1998.82 284.89\\
1998.89 283.96\\ 1999.00 284.33\\ 1999.10 284.41\\ 1999.19 282.68\\ 1999.31 284.06\\ 1999.42 283.15\\ 1999.47 283.14\\ 1999.56 284.89\\ 1999.65 285.79\\ 1999.75 286.65\\
1999.83 284.52\\ 1999.90 284.37\\ 2000.00 283.96\\ 2000.08 284.11\\ 2000.17 284.85\\ 2000.25 285.17\\ 2000.32 284.14\\ 2000.42 282.70\\ 2000.49 282.80\\ 2000.58 285.00\\
2000.67 286.06\\ 2000.75 286.85\\ 2000.83 284.25\\ 2000.92 284.91\\ 2001.00 284.62\\ 2001.07 284.67\\ 2001.15 285.35\\ 2001.25 284.85\\ 2001.33 283.93\\ 2001.43 282.76\\
2001.50 283.42\\ 2001.57 284.86\\ 2001.67 286.45\\ 2001.75 286.95\\ 2001.85 285.17\\ 2001.94 284.67\\ 2002.01 284.91\\ 2002.08 284.93\\ 2002.17 285.69\\ 2002.25 285.25\\
2002.33 284.25\\ 2002.42 283.59\\ 2002.50 283.28\\ 2002.57 284.93\\ 2002.65 286.42\\ 2002.75 287.00\\ 2002.82 285.83\\ 2002.92 285.60\\ 2003.01 285.48\\ 2003.11 285.51\\
2003.19 285.04\\ 2003.25 284.36\\ 2003.33 284.35\\ 2003.43 283.29\\ 2003.49 283.80\\ 2003.57 285.10\\ 2003.65 285.95\\ 2003.74 286.90\\ 2003.82 286.48\\ 2003.89 286.29\\
2004.00 286.31\\ 2004.10 286.61\\ 2004.17 285.63\\ 2004.26 285.17\\ 2004.32 284.57\\ 2004.42 283.70\\ 2004.49 283.70\\ 2004.57 285.16\\ 2004.67 286.30\\ 2004.75 286.47\\
2004.82 286.74\\ 2004.89 286.68\\ 2004.97 287.09\\ 2005.07 286.39\\ 2005.14 286.35\\ 2005.25 286.28\\ 2005.31 284.40\\ 2005.42 283.96\\ 2005.49 284.41\\ 2005.56 286.14\\
2005.65 286.59\\ 2005.72 286.10\\ 2005.79 286.08\\ 2005.86 285.95\\ 2005.97 286.13\\ 2006.07 286.45\\ 2006.15 286.44\\ 2006.22 285.56\\ 2006.32 284.22\\ 2006.39 284.06\\
2006.49 284.08\\ 2006.57 285.91\\ 2006.64 286.58\\ 2006.71 286.51\\ 2006.78 286.83\\ 2006.87 286.31\\ 2006.97 286.77\\ 2007.04 286.71\\ 2007.12 286.14\\ 2007.22 285.69\\
2007.32 284.38\\ 2007.40 283.99\\ 2007.46 283.96\\ 2007.54 285.69\\ 2007.64 286.87\\ 2007.72 286.27\\ 2007.81 286.01\\ 2007.87 285.63\\ 2007.94 285.75\\ 2008.03 285.41\\
2008.14 285.28\\ 2008.24 284.84\\ 2008.31 283.55\\ 2008.40 283.01\\ 2008.47 283.33\\ 2008.56 285.26\\ 2008.64 286.51\\ 2008.71 287.08\\ 2008.79 286.77\\ 2008.89 286.16\\
2008.99 285.88\\ 2009.06 286.06\\ 2009.14 285.88\\ 2009.24 285.69\\ 2009.31 284.45\\ 2009.40 283.83\\ 2009.47 283.30\\ 2009.56 285.56\\ 2009.65 287.52\\ 2009.72 287.91\\
2009.82 286.86\\ 2009.90 286.58\\ 2010.00 286.68\\ 2010.07 287.21\\ 2010.14 287.18\\ 2010.21 286.52\\ 2010.39 284.22\\ 2010.49 283.92\\ 2010.56 285.45\\ 2010.67 286.83\\
2010.72 286.96\\ 2010.83 286.02\\ 2010.90 285.90\\ 2011.00 285.51\\ 2011.15 285.32\\ 2011.25 285.52\\ 2011.32 284.37\\ 2011.42 283.80\\ 2011.49 283.58\\ 2011.60 285.00\\
2011.67 286.71\\ 2011.74 286.74\\ 2011.83 286.20\\ 2011.90 286.29\\ 2012.01 285.91\\ 2012.11 286.49\\ 2012.19 285.76\\ 2012.29 285.51\\ 2012.33 284.24\\ 2012.40 283.94\\
2012.50 283.46\\ 2012.57 284.98\\ 2012.64 287.26\\ 2012.74 286.83\\ 2012.82 286.21\\ 2012.92 286.52\\ 2013.00 286.36\\ 2013.10 286.44\\ 2013.17 286.34\\ 2013.24 285.89\\
2013.31 284.88\\ 2013.42 284.05\\ 2013.50 283.76\\ 2013.61 284.52\\ 2013.71 286.81\\ 2013.79 286.29\\ 2013.89 286.44\\ 2013.99 286.18\\ 2014.03 286.14\\ 2014.17 286.10\\
2014.26 285.95\\ 2014.33 284.57\\ 2014.42 284.34\\ 2014.51 284.34\\ 2014.58 285.28\\ 2014.70 286.27\\ 2014.81 285.39\\ 2014.86 285.25\\ 2014.93 285.04\\ 2015.03 285.04\\
2015.11 285.13\\ 2015.18 285.60\\ 2015.28 284.60\\ 2015.38 283.96\\ 2015.47 283.76\\ 2015.58 285.39\\ 2015.67 287.21\\ 2015.72 287.09\\ 2015.83 285.80\\ 2015.90 285.75\\
2016.00 285.37\\ 2016.10 286.42\\ 2016.18 286.18\\ 2016.25 285.72\\ 2016.32 284.72\\ 2016.42 283.61\\ 2016.50 283.40\\ 2016.58 285.34\\ 2016.67 286.16\\ 2016.74 286.18\\
2016.85 284.52\\ 2016.94 284.63\\ 2017.04 284.93\\ 2017.08 285.10\\ 2017.20 285.45\\ 2017.29 284.69\\ 2017.40 283.52\\ 2017.47 283.84\\ 2017.54 284.69\\ 2017.61 286.57\\
};
\addplot[meanline] coordinates {(1979,285.03) (2017.73,285.03)};
\addplot[runline] coordinates {
(1979.05,284.81) (1979.24,284.63) (1979.46,284.60) (1979.68,284.55) (1979.90,284.66) (1980.12,284.52) (1980.34,284.46) (1980.56,284.35) (1980.70,284.32) (1980.92,284.43)
(1981.14,284.46) (1981.36,284.46) (1981.59,284.52) (1981.81,284.63) (1982.03,284.69) (1982.17,284.66) (1982.39,284.78) (1982.69,284.81) (1982.98,284.94) (1983.20,284.85)
(1983.50,284.94) (1983.79,284.91) (1984.01,284.94) (1984.23,284.81) (1984.52,284.63) (1984.82,284.52) (1985.04,284.28) (1985.26,284.19) (1985.55,284.18) (1985.77,284.28)
(1985.99,284.41) (1986.21,284.34) (1986.43,284.46) (1986.65,284.58) (1986.87,284.72) (1987.09,284.69) (1987.31,284.60) (1987.53,284.78) (1987.83,284.84) (1988.05,284.78)
(1988.34,284.74) (1988.63,284.74) (1988.93,284.69) (1989.07,284.52) (1989.37,284.56) (1989.66,284.59) (1989.96,284.52) (1990.18,284.49) (1990.40,284.59) (1990.69,284.64)
(1990.98,284.72) (1991.20,284.76) (1991.42,284.81) (1991.72,284.75) (1991.94,284.87) (1992.23,284.78) (1992.45,284.81) (1992.75,284.78) (1993.04,284.63) (1993.26,284.52)
(1993.48,284.63) (1993.77,284.68) (1994.07,284.72) (1994.29,284.75) (1994.51,284.81) (1994.80,284.69) (1995.02,284.69) (1995.24,284.72) (1995.46,284.75) (1995.76,284.60)
(1995.98,284.63) (1996.20,284.55) (1996.42,284.63) (1996.71,284.81) (1997.00,284.96) (1997.22,284.93) (1997.52,285.03) (1997.86,285.10) (1998.06,285.04) (1998.33,285.10)
(1998.75,285.04) (1999.10,285.04) (1999.31,284.93) (1999.58,284.84) (1999.86,284.69) (2000.07,284.55) (2000.21,284.48) (2000.42,284.46) (2000.69,284.60) (2000.97,284.69)
(2001.18,284.78) (2001.46,284.84) (2001.67,284.84) (2001.88,284.98) (2002.08,285.01) (2002.36,285.10) (2002.64,285.14) (2002.92,285.25) (2003.19,285.39) (2003.47,285.45)
(2003.75,285.58) (2003.96,285.60) (2004.17,285.56) (2004.38,285.63) (2004.65,285.64) (2004.93,285.77) (2005.21,285.69) (2005.49,285.75) (2005.76,285.83) (2005.90,285.89)
(2006.18,285.66) (2006.46,285.60) (2006.74,285.60) (2006.94,285.66) (2007.15,285.48) (2007.29,285.35) (2007.50,285.34) (2007.78,285.42) (2008.06,285.45) (2008.33,285.51)
(2008.61,285.63) (2008.89,285.72) (2009.17,285.66) (2009.44,285.70) (2009.65,285.77) (2009.93,285.89) (2010.14,285.81) (2010.42,285.81) (2010.83,285.82) (2011.11,285.66)
(2011.39,285.63) (2011.67,285.63) (2011.94,285.63) (2012.15,285.52) (2012.36,285.57) (2012.64,285.64) (2012.94,285.73) (2013.19,285.63) (2013.47,285.64) (2013.75,285.63)
(2013.96,285.68) (2014.17,285.57) (2014.44,285.59) (2014.72,285.60) (2014.93,285.57) (2015.21,285.37) (2015.49,285.32) (2015.76,285.34) (2015.97,285.28) (2016.25,285.17)
(2016.53,285.17) (2016.81,285.19) (2017.08,285.13) (2017.36,285.07) (2017.64,284.98) (2017.73,284.93)
};
\addplot[trendline] coordinates {(1979,284.39) (2017.73,285.64)};
\node[anchor=west, inner sep=0pt, font=\fontsize{13.5}{16}\selectfont] at (axis cs:1980.2,288.1) {subregion R1; slope: 0.03224 K a\textsuperscript{-1}};
\end{axis}
\node[rotate=90, inner sep=0pt, font=\fontsize{15.8}{18}\selectfont] at (-42.8pt,394.25pt) {ERA Interim skin temperatur (K)};
\pgfresetboundingbox
\path[use as bounding box] (-55.4pt,-22.75pt) rectangle (502.1pt,771.75pt);
\end{tikzpicture}
\end{document}
